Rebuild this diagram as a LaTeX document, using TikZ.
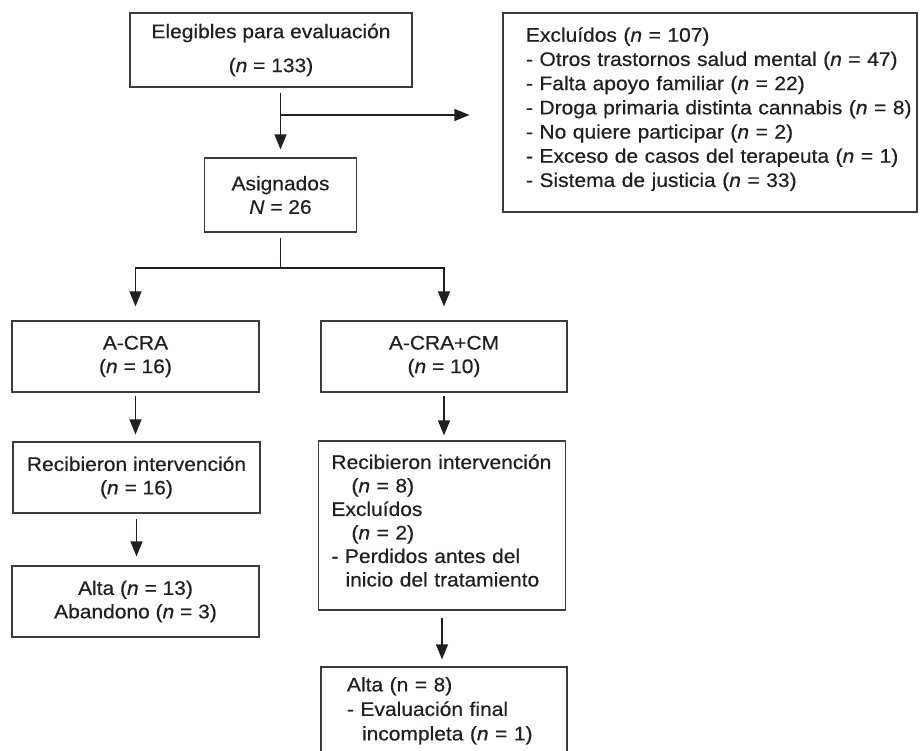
\documentclass[tikz,border=0pt]{standalone}
\usepackage{fontspec}
\setmainfont[FakeStretch=1.07,FakeBold=0.5]{Liberation Sans}
\usetikzlibrary{arrows.meta,calc}
\definecolor{ink}{RGB}{35,31,32}
\definecolor{edge}{RGB}{60,60,60}
\newcommand{\itn}{\textit{n}}
\begin{document}
\begin{tikzpicture}[x=1pt,y=-1pt,
  font=\fontsize{19.6pt}{23.5pt}\selectfont, text=ink,
  box/.style={draw=edge, line width=1.2pt, rectangle, inner sep=0pt, align=center},
  lbox/.style={box, align=left},
  arr/.style={draw=ink, line width=1.2pt, -{Triangle[length=15pt,width=12pt]}},
  ln/.style={draw=ink, line width=1.2pt}]
\useasboundingbox (0,0) rectangle (920,751);
\clip (0,0) rectangle (920,751);

\node[box, minimum width=282, minimum height=74] (b1) at (271,50)
  {Elegibles para evaluación\\[10.5pt](\itn{} = 133)};

\node[lbox, minimum height=199, text width=414pt,
  font=\fontsize{19.6pt}{24.2pt}\selectfont] (excl) at (710,112.5)
  {\hspace*{23pt}\begin{tabular}{@{}l@{}}Excluídos (\itn{} = 107)\\
   - Otros trastornos salud mental (\itn{} = 47)\\
   - Falta apoyo familiar (\itn{} = 22)\\
   - Droga primaria distinta cannabis (\itn{} = 8)\\
   - No quiere participar (\itn{} = 2)\\
   - Exceso de casos del terapeuta (\itn{} = 1)\\
   - Sistema de justicia (\itn{} = 33)\\[6pt]\end{tabular}};

\node[box, minimum width=152, minimum height=74] (asig) at (280.5,195)
  {Asignados\\\textit{N} = 26};

\node[box, minimum width=247, minimum height=71] (acra) at (135.5,356.5)
  {A-CRA\\(\itn{} = 16)};
\node[box, minimum width=247, minimum height=71] (recib1) at (136.5,477.5)
  {Recibieron intervención\\(\itn{} = 16)};
\node[box, minimum width=247, minimum height=71] (alta1) at (135.5,601.5)
  {Alta (\itn{} = 13)\\Abandono (\itn{} = 3)};

\node[box, minimum width=246, minimum height=71] (acracm) at (444,356.5)
  {A-CRA+CM\\(\itn{} = 10)};
\node[lbox, minimum height=169, text width=247pt] (recib2) at (442,525.5)
  {\hspace*{13pt}\begin{tabular}{@{}l@{}}Recibieron intervención\\
   \hspace*{20pt}(\itn{} = 8)\\
   Excluídos\\
   \hspace*{20pt}(\itn{} = 2)\\
   - Perdidos antes del\\
   \hspace*{14pt}inicio del tratamiento\\[5pt]\end{tabular}};
\node[lbox, minimum height=88, text width=246pt,
  font=\fontsize{19.6pt}{24.5pt}\selectfont] (final) at (444,711)
  {\hspace*{26pt}\begin{tabular}{@{}l@{}}Alta (n = 8)\\
   - Evaluación final\\
   \hspace*{15pt}incompleta (\itn{} = 1)\end{tabular}};

\coordinate (brY) at (0,115);
\coordinate (br) at (asig.north |- brY);
\coordinate (spY) at (0,268);
\coordinate (sp) at (asig.south |- spY);

\draw[arr, shorten <=5pt, shorten >=8pt] (b1.south -| asig.north) -- (asig.north);
\draw[arr, shorten >=33pt] (br) -- (br -| excl.west);
\draw[ln, shorten <=5pt] (asig.south) -- (sp);
\draw[arr, shorten >=14pt] (sp) -| (acra.north);
\draw[arr, shorten >=14pt] (sp) -| (acracm.north);
\draw[arr, shorten <=3pt, shorten >=7pt] (acra.south) -- (acra.south |- recib1.north);
\draw[arr, shorten <=5pt, shorten >=9pt] (recib1.south) -- (recib1.south |- alta1.north);
\draw[arr, shorten <=3pt, shorten >=5pt] (acracm.south) -- (acracm.south |- recib2.north);
\draw[arr, shorten <=7pt, shorten >=7pt] (recib2.south) -- (recib2.south |- final.north);
\end{tikzpicture}
\end{document}
